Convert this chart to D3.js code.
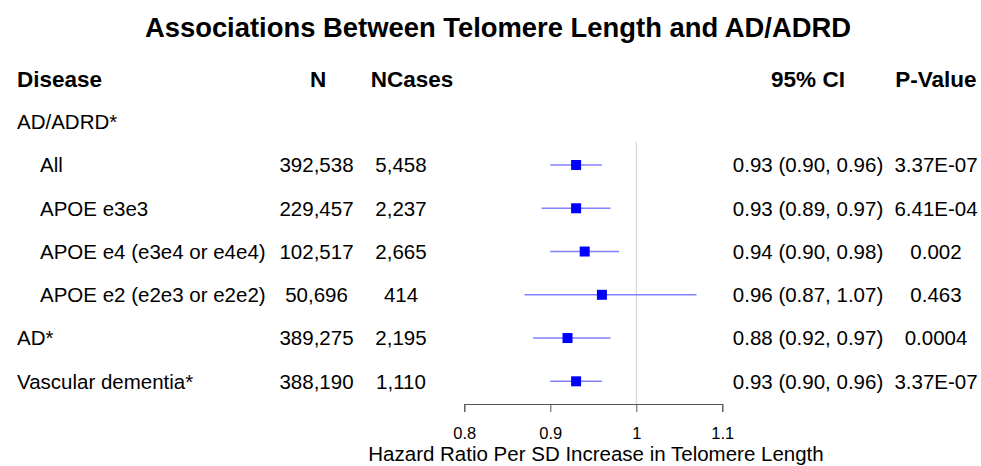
<!DOCTYPE html>
<html>
<head>
<meta charset="utf-8">
<script src="https://cdn.jsdelivr.net/npm/d3@7"></script>
<style>
  html, body { margin: 0; padding: 0; background: #fff; }
  svg { display: block; font-family: "Liberation Sans", Arial, sans-serif; }
  .xaxis .tick text { font-size: 16.5px; font-family: "Liberation Sans", Arial, sans-serif; }
</style>
</head>
<body>
<svg id="chart" width="981" height="466"></svg>
<script>
// ---- Data ----
const title = "Associations Between Telomere Length and AD/ADRD";
const headers = ["Disease", "N", "NCases", "95% CI", "P-Value"];
const labels = ["AD/ADRD*", "All", "APOE e3e3", "APOE e4 (e3e4 or e4e4)", "APOE e2 (e2e3 or e2e2)", "AD*", "Vascular dementia*"];
const indented = [false, true, true, true, true, false, false];
const nValues = ["", "392,538", "229,457", "102,517", "50,696", "389,275", "388,190"];
const nCases = ["", "5,458", "2,237", "2,665", "414", "2,195", "1,110"];
const ciText = ["", "0.93 (0.90, 0.96)", "0.93 (0.89, 0.97)", "0.94 (0.90, 0.98)", "0.96 (0.87, 1.07)", "0.88 (0.92, 0.97)", "0.93 (0.90, 0.96)"];
const pValues = ["", "3.37E-07", "6.41E-04", "0.002", "0.463", "0.0004", "3.37E-07"];
const hr = [null, 0.93, 0.93, 0.94, 0.96, 0.92, 0.93];
const lower = [null, 0.90, 0.89, 0.90, 0.87, 0.88, 0.90];
const upper = [null, 0.96, 0.97, 0.98, 1.07, 0.97, 0.96];
const tickValues = [0.8, 0.9, 1, 1.1];
const tickLabels = ["0.8", "0.9", "1", "1.1"];
const xTitle = "Hazard Ratio Per SD Increase in Telomere Length";

// ---- Layout ----
const svg = d3.select("#chart");
const x = d3.scaleLinear().domain([0.8, 1.1]).range([464.3, 722.3]);
const y = d3.scalePoint().domain(d3.range(labels.length + 1)).range([78.5, 381.3]);
const rowY = i => y(i + 1);
const axisY = 404;

const bodySize = 20.5, headSize = 22.5;

// Title
svg.append("text")
  .attr("x", 498).attr("y", 37)
  .attr("text-anchor", "middle")
  .attr("font-weight", "bold")
  .attr("font-size", 27.4)
  .attr("fill", "#000")
  .text(title);

// Column headers
const headX = [17, 318, 412, 808, 936];
const headAnchor = ["start", "middle", "middle", "middle", "middle"];
svg.append("g").selectAll("text").data(headers).join("text")
  .attr("x", (d, i) => headX[i])
  .attr("y", y(0))
  .attr("dy", "0.36em")
  .attr("text-anchor", (d, i) => headAnchor[i])
  .attr("font-weight", "bold")
  .attr("font-size", headSize)
  .text(d => d);

// Row text columns
const cols = [
  { vals: labels, x: (d, i) => indented[i] ? 40 : 17, anchor: "start" },
  { vals: nValues, x: () => 316.5, anchor: "middle" },
  { vals: nCases, x: () => 401, anchor: "middle" },
  { vals: ciText, x: () => 808, anchor: "middle" },
  { vals: pValues, x: () => 936, anchor: "middle" }
];
cols.forEach(c => {
  svg.append("g").selectAll("text").data(c.vals).join("text")
    .attr("x", (d, i) => c.x(d, i))
    .attr("y", (d, i) => rowY(i))
    .attr("dy", "0.36em")
    .attr("text-anchor", c.anchor)
    .attr("font-size", bodySize)
    .attr("fill", "#000")
    .text(d => d);
});

// Reference line at 1
svg.append("line")
  .attr("x1", x(1)).attr("x2", x(1))
  .attr("y1", 142).attr("y2", axisY)
  .attr("stroke", "#cfcfcf").attr("stroke-width", 1);

// CI lines and boxes
const idx = d3.range(labels.length).filter(i => hr[i] !== null);
svg.append("g").selectAll("line").data(idx).join("line")
  .attr("x1", i => x(lower[i])).attr("x2", i => x(upper[i]))
  .attr("y1", i => rowY(i)).attr("y2", i => rowY(i))
  .attr("stroke", "#8080ff").attr("stroke-width", 1.6);
const box = 10;
svg.append("g").selectAll("rect").data(idx).join("rect")
  .attr("x", i => x(hr[i]) - box / 2)
  .attr("y", i => rowY(i) - box / 2)
  .attr("width", box).attr("height", box)
  .attr("fill", "#0000ff");

// X axis
const axis = d3.axisBottom(x)
  .tickValues(tickValues)
  .tickFormat((d, i) => tickLabels[i])
  .tickSize(8)
  .tickSizeOuter(8)
  .tickPadding(8);
const gx = svg.append("g").attr("class", "xaxis")
  .attr("transform", `translate(0,${axisY})`).call(axis);
gx.attr("font-size", 16.5).attr("font-family", "Liberation Sans, Arial, sans-serif");
gx.selectAll("path, line").attr("stroke", "#555");
gx.selectAll(".tick text")
  .attr("y", 35).attr("dy", 0)
  .attr("fill", "#000");

svg.append("text")
  .attr("x", 596).attr("y", 461)
  .attr("text-anchor", "middle")
  .attr("font-size", bodySize)
  .attr("fill", "#000")
  .text(xTitle);
</script>
</body>
</html>
